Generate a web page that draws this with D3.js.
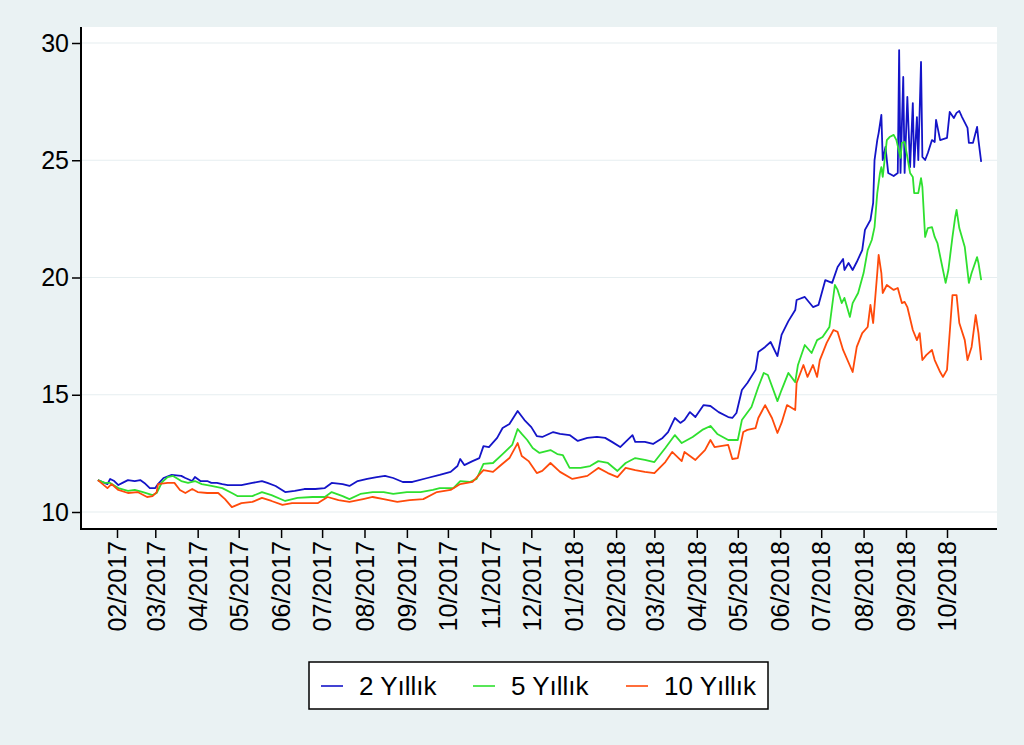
<!DOCTYPE html>
<html>
<head>
<meta charset="utf-8">
<script src="https://cdn.jsdelivr.net/npm/d3@7/dist/d3.min.js"></script>
<style>
  html, body { margin: 0; padding: 0; background: #EAF2F3; }
  svg { display: block; font-family: Arial, "Liberation Sans", sans-serif; }
</style>
</head>
<body>
<svg id="chart" width="1024" height="745"></svg>
<script>
// ---------------- DATA ----------------
const seriesNames = ["2 Yıllık", "5 Yıllık", "10 Yıllık"];
const seriesColors = ["#1414c8", "#2fe02f", "#ff4a0a"];
const yTicks = [10, 15, 20, 25, 30];
const tickLabels = ["02/2017","03/2017","04/2017","05/2017","06/2017","07/2017","08/2017","09/2017","10/2017","11/2017","12/2017","01/2018","02/2018","03/2018","04/2018","05/2018","06/2018","07/2018","08/2018","09/2018","10/2018"];

const dates2y = ["2017-01-18","2017-01-25","2017-01-27","2017-01-30","2017-02-02","2017-02-05","2017-02-09","2017-02-14","2017-02-18","2017-02-21","2017-02-25","2017-03-01","2017-03-03","2017-03-07","2017-03-13","2017-03-20","2017-03-23","2017-03-28","2017-03-30","2017-04-03","2017-04-08","2017-04-11","2017-04-15","2017-04-19","2017-04-23","2017-05-03","2017-05-11","2017-05-18","2017-05-22","2017-05-28","2017-06-04","2017-06-11","2017-06-18","2017-06-26","2017-07-03","2017-07-08","2017-07-16","2017-07-21","2017-07-27","2017-08-03","2017-08-10","2017-08-16","2017-08-22","2017-08-29","2017-09-05","2017-09-16","2017-09-25","2017-10-03","2017-10-08","2017-10-10","2017-10-13","2017-10-19","2017-10-24","2017-10-27","2017-10-31","2017-11-06","2017-11-10","2017-11-15","2017-11-21","2017-11-26","2017-12-01","2017-12-05","2017-12-09","2017-12-17","2017-12-22","2017-12-29","2018-01-04","2018-01-11","2018-01-18","2018-01-24","2018-01-29","2018-02-04","2018-02-13","2018-02-15","2018-02-22","2018-02-28","2018-03-07","2018-03-11","2018-03-16","2018-03-20","2018-03-23","2018-03-27","2018-03-31","2018-04-06","2018-04-11","2018-04-17","2018-04-24","2018-04-27","2018-04-30","2018-05-04","2018-05-08","2018-05-14","2018-05-16","2018-05-21","2018-05-25","2018-05-30","2018-06-02","2018-06-07","2018-06-12","2018-06-13","2018-06-19","2018-06-25","2018-06-29","2018-07-04","2018-07-09","2018-07-13","2018-07-17","2018-07-18","2018-07-21","2018-07-24","2018-07-27","2018-07-31","2018-08-02","2018-08-06","2018-08-08","2018-08-09","2018-08-11","2018-08-12","2018-08-14","2018-08-15","2018-08-17","2018-08-19","2018-08-23","2018-08-26","2018-08-27","2018-08-28","2018-08-30","2018-08-31","2018-09-02","2018-09-04","2018-09-06","2018-09-07","2018-09-09","2018-09-10","2018-09-12","2018-09-13","2018-09-15","2018-09-17","2018-09-20","2018-09-22","2018-09-23","2018-09-26","2018-10-01","2018-10-03","2018-10-06","2018-10-08","2018-10-10","2018-10-12","2018-10-16","2018-10-17","2018-10-20","2018-10-23","2018-10-24","2018-10-26"];
const values2y = [11.36,11.19,11.41,11.32,11.15,11.24,11.36,11.32,11.36,11.24,11.02,11.02,11.19,11.45,11.58,11.54,11.45,11.32,11.49,11.32,11.32,11.24,11.24,11.19,11.15,11.15,11.24,11.32,11.24,11.11,10.85,10.90,10.98,10.98,11.02,11.24,11.19,11.11,11.32,11.41,11.49,11.54,11.45,11.28,11.28,11.45,11.58,11.71,11.96,12.26,12.00,12.17,12.30,12.81,12.77,13.16,13.58,13.75,14.31,13.92,13.62,13.24,13.20,13.41,13.33,13.28,13.03,13.16,13.20,13.16,12.99,12.77,13.28,12.99,12.99,12.90,13.16,13.41,14.01,13.80,13.92,14.26,14.05,14.56,14.52,14.26,14.05,14.01,14.22,15.20,15.50,16.06,16.82,17.04,17.25,16.65,17.55,18.14,18.61,19.04,19.17,18.74,18.83,19.89,19.77,20.45,20.79,20.32,20.62,20.32,20.66,21.17,22.03,22.45,23.18,25.01,25.86,26.16,26.93,25.01,25.57,24.46,24.33,24.46,29.70,24.46,28.55,24.46,27.70,24.71,27.44,24.71,26.84,25.01,29.19,25.14,25.01,25.31,25.86,25.78,26.72,25.86,25.95,27.06,26.80,27.02,27.10,26.84,26.38,25.74,25.74,26.42,25.86,24.93];

const dates5y = ["2017-01-18","2017-01-23","2017-01-27","2017-02-02","2017-02-09","2017-02-14","2017-02-20","2017-02-27","2017-03-02","2017-03-06","2017-03-10","2017-03-14","2017-03-20","2017-03-25","2017-03-30","2017-04-04","2017-04-11","2017-04-19","2017-04-26","2017-04-30","2017-05-11","2017-05-18","2017-05-25","2017-06-04","2017-06-13","2017-06-24","2017-07-03","2017-07-08","2017-07-16","2017-07-21","2017-07-29","2017-08-07","2017-08-15","2017-08-22","2017-09-01","2017-09-11","2017-09-20","2017-09-25","2017-10-05","2017-10-10","2017-10-17","2017-10-22","2017-10-27","2017-11-03","2017-11-10","2017-11-17","2017-11-21","2017-11-24","2017-11-28","2017-12-02","2017-12-07","2017-12-15","2017-12-20","2017-12-24","2017-12-29","2018-01-06","2018-01-13","2018-01-19","2018-01-26","2018-02-02","2018-02-08","2018-02-15","2018-02-22","2018-03-01","2018-03-09","2018-03-16","2018-03-21","2018-03-29","2018-04-05","2018-04-11","2018-04-16","2018-04-24","2018-05-01","2018-05-04","2018-05-11","2018-05-16","2018-05-20","2018-05-23","2018-05-30","2018-06-02","2018-06-07","2018-06-12","2018-06-14","2018-06-19","2018-06-24","2018-06-28","2018-07-02","2018-07-07","2018-07-11","2018-07-13","2018-07-16","2018-07-18","2018-07-22","2018-07-24","2018-07-28","2018-08-01","2018-08-04","2018-08-07","2018-08-09","2018-08-11","2018-08-13","2018-08-14","2018-08-15","2018-08-18","2018-08-20","2018-08-23","2018-08-25","2018-08-28","2018-08-29","2018-08-31","2018-09-02","2018-09-04","2018-09-06","2018-09-07","2018-09-10","2018-09-12","2018-09-13","2018-09-15","2018-09-17","2018-09-20","2018-09-22","2018-09-24","2018-09-27","2018-09-30","2018-10-02","2018-10-05","2018-10-07","2018-10-08","2018-10-10","2018-10-14","2018-10-17","2018-10-19","2018-10-23","2018-10-24","2018-10-26"];
const values5y = [11.36,11.24,11.24,11.02,10.90,10.94,10.85,10.72,10.81,11.28,11.49,11.54,11.32,11.24,11.32,11.19,11.11,11.02,10.81,10.68,10.68,10.85,10.72,10.47,10.60,10.64,10.64,10.85,10.68,10.55,10.77,10.85,10.85,10.77,10.85,10.85,10.94,11.02,11.02,11.32,11.28,11.41,12.05,12.09,12.47,12.86,13.54,13.33,13.07,12.73,12.52,12.64,12.47,12.43,11.88,11.88,11.96,12.17,12.09,11.75,12.09,12.30,12.22,12.13,12.73,13.28,12.94,13.20,13.50,13.67,13.33,13.07,13.07,13.92,14.48,15.33,15.93,15.84,14.73,15.20,15.93,15.54,16.27,17.12,16.78,17.33,17.46,17.89,19.68,19.47,18.91,19.13,18.32,18.91,19.34,20.19,21.17,21.60,22.15,23.60,24.46,24.71,24.29,25.86,25.99,26.08,25.86,25.10,25.74,25.78,25.14,24.46,24.29,23.60,23.60,24.24,23.86,21.73,22.11,22.15,21.73,21.47,20.62,19.77,20.32,21.73,22.58,22.88,22.11,21.30,19.77,20.19,20.87,20.62,19.89];

const dates10y = ["2017-01-18","2017-01-25","2017-01-28","2017-02-02","2017-02-09","2017-02-16","2017-02-23","2017-02-27","2017-03-02","2017-03-03","2017-03-10","2017-03-15","2017-03-19","2017-03-23","2017-03-28","2017-04-01","2017-04-08","2017-04-16","2017-04-21","2017-04-26","2017-05-03","2017-05-11","2017-05-18","2017-05-25","2017-06-02","2017-06-09","2017-06-18","2017-06-28","2017-07-05","2017-07-13","2017-07-21","2017-07-31","2017-08-07","2017-08-15","2017-08-25","2017-09-03","2017-09-13","2017-09-23","2017-10-03","2017-10-10","2017-10-19","2017-10-27","2017-11-03","2017-11-08","2017-11-15","2017-11-21","2017-11-24","2017-11-29","2017-12-05","2017-12-09","2017-12-15","2017-12-22","2017-12-31","2018-01-11","2018-01-19","2018-01-26","2018-02-02","2018-02-08","2018-02-15","2018-02-22","2018-03-01","2018-03-09","2018-03-14","2018-03-21","2018-03-23","2018-03-31","2018-04-07","2018-04-11","2018-04-14","2018-04-24","2018-04-27","2018-05-01","2018-05-05","2018-05-08","2018-05-14","2018-05-16","2018-05-21","2018-05-26","2018-05-30","2018-06-02","2018-06-06","2018-06-12","2018-06-13","2018-06-18","2018-06-21","2018-06-25","2018-06-28","2018-06-30","2018-07-05","2018-07-10","2018-07-13","2018-07-17","2018-07-24","2018-07-27","2018-07-31","2018-08-04","2018-08-06","2018-08-08","2018-08-11","2018-08-12","2018-08-14","2018-08-15","2018-08-18","2018-08-23","2018-08-26","2018-08-29","2018-08-31","2018-09-02","2018-09-06","2018-09-09","2018-09-11","2018-09-13","2018-09-16","2018-09-20","2018-09-22","2018-09-26","2018-09-28","2018-10-01","2018-10-05","2018-10-08","2018-10-10","2018-10-14","2018-10-16","2018-10-19","2018-10-22","2018-10-24","2018-10-26"];
const values10y = [11.36,11.02,11.19,10.94,10.81,10.85,10.64,10.68,10.85,11.19,11.24,11.24,10.94,10.81,10.98,10.85,10.81,10.81,10.55,10.21,10.38,10.43,10.60,10.47,10.30,10.38,10.38,10.38,10.64,10.51,10.43,10.55,10.64,10.55,10.43,10.51,10.55,10.85,10.94,11.19,11.28,11.79,11.71,11.96,12.30,12.94,12.39,12.17,11.66,11.75,12.09,11.71,11.41,11.54,11.88,11.66,11.49,11.88,11.79,11.71,11.66,12.13,12.56,12.17,12.56,12.22,12.64,13.07,12.77,12.86,12.26,12.30,13.41,13.50,13.58,14.01,14.56,14.01,13.37,13.80,14.56,14.35,15.50,16.27,15.76,16.27,15.76,16.48,17.21,17.76,17.68,16.91,15.97,17.04,17.63,17.89,18.83,18.06,20.19,20.96,20.19,19.34,19.68,19.47,19.55,18.91,18.96,18.74,17.76,17.33,17.63,16.48,16.70,16.91,16.48,15.97,15.76,16.06,19.25,19.25,18.06,17.33,16.48,17.04,18.40,17.63,16.48];

// ---------------- LAYOUT ----------------
const W = 1024, H = 745;
const plot = { left: 81, right: 997, top: 27, bottom: 529 };
const parseDate = d3.timeParse("%Y-%m-%d");
const parseTick = d3.timeParse("%m/%Y");
const fmtTick = d3.timeFormat("%m/%Y");

const svg = d3.select("#chart");
svg.append("rect").attr("width", W).attr("height", H).attr("fill", "#EAF2F3");

const tickDates = tickLabels.map(parseTick);
const x = d3.scaleTime()
  .domain([tickDates[0], tickDates[tickDates.length - 1]])
  .range([117, 947]);
const y = d3.scaleLinear().domain([10, 30]).range([512, 43]);

// plot region
svg.append("rect")
  .attr("x", plot.left).attr("y", plot.top)
  .attr("width", plot.right - plot.left).attr("height", plot.bottom - plot.top)
  .attr("fill", "#ffffff");

// grid lines
svg.append("g").selectAll("line").data(yTicks).join("line")
  .attr("x1", plot.left).attr("x2", plot.right)
  .attr("y1", d => y(d)).attr("y2", d => y(d))
  .attr("stroke", "#E6EEF0").attr("stroke-width", 1.2);

// series
const series = [
  { name: seriesNames[0], color: seriesColors[0], dates: dates2y, values: values2y },
  { name: seriesNames[1], color: seriesColors[1], dates: dates5y, values: values5y },
  { name: seriesNames[2], color: seriesColors[2], dates: dates10y, values: values10y }
];
const line = d3.line().x(d => x(d.date)).y(d => y(d.value));
series.forEach(s => {
  const pts = s.dates.map((d, i) => ({ date: parseDate(d), value: s.values[i] }));
  svg.append("path").datum(pts)
    .attr("d", line)
    .attr("fill", "none")
    .attr("stroke", s.color)
    .attr("stroke-width", 1.8)
    .attr("stroke-linejoin", "round");
});

// y axis
const yAxis = svg.append("g").attr("transform", `translate(${plot.left},0)`)
  .call(d3.axisLeft(y).tickValues(yTicks).tickSize(9).tickPadding(3).tickFormat(d3.format("d")));
yAxis.select(".domain").remove();
yAxis.selectAll(".tick line").attr("stroke", "#000").attr("stroke-width", 1.5);
yAxis.selectAll(".tick text").attr("font-size", 25).attr("fill", "#000")
  .attr("font-family", "Arial, 'Liberation Sans', sans-serif");
svg.append("line").attr("x1", plot.left).attr("x2", plot.left)
  .attr("y1", plot.top).attr("y2", plot.bottom + 1)
  .attr("stroke", "#000").attr("stroke-width", 2);

// x axis
const xAxis = svg.append("g").attr("transform", `translate(0,${plot.bottom})`)
  .call(d3.axisBottom(x).tickValues(tickDates).tickSize(9).tickFormat(fmtTick));
xAxis.select(".domain").remove();
xAxis.selectAll(".tick line").attr("stroke", "#000").attr("stroke-width", 1.5);
xAxis.selectAll(".tick text")
  .attr("font-size", 25).attr("fill", "#000")
  .attr("font-family", "Arial, 'Liberation Sans', sans-serif")
  .attr("text-anchor", "end")
  .attr("transform", "rotate(-90)")
  .attr("x", -12).attr("y", 0).attr("dy", "0.35em");
svg.append("line").attr("x1", plot.left - 1).attr("x2", plot.right)
  .attr("y1", plot.bottom).attr("y2", plot.bottom)
  .attr("stroke", "#000").attr("stroke-width", 2);

// legend
const legend = svg.append("g");
legend.append("rect").attr("x", 309).attr("y", 662).attr("width", 459).attr("height", 47)
  .attr("fill", "#fff").attr("stroke", "#000").attr("stroke-width", 1.5);
const legendX = [321, 473, 626];
series.forEach((s, i) => {
  const g = legend.append("g").attr("transform", `translate(${legendX[i]},686)`);
  g.append("line").attr("x1", 0).attr("x2", 22).attr("y1", 0).attr("y2", 0)
    .attr("stroke", s.color).attr("stroke-width", 1.6);
  g.append("text").attr("x", 38).attr("y", 0).attr("dy", "0.35em")
    .attr("font-size", 26).attr("fill", "#000").text(s.name);
});
</script>
</body>
</html>
